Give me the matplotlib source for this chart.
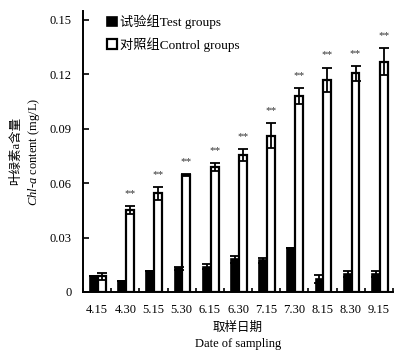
import matplotlib
matplotlib.use('Agg')
import matplotlib.pyplot as plt
import numpy as np

plt.rcParams['font.family'] = ['Liberation Serif', 'Noto Sans CJK SC']
plt.rcParams['mathtext.fontset'] = 'custom'
plt.rcParams['mathtext.rm'] = 'Liberation Serif'
plt.rcParams['mathtext.it'] = 'Liberation Serif:italic'

# data
dates = ['4.15', '4.30', '5.15', '5.30', '6.15', '6.30', '7.15', '7.30', '8.15', '8.30', '9.15']
test_mean = [0.0085, 0.006, 0.0115, 0.013, 0.014, 0.018, 0.0175, 0.024, 0.007, 0.010, 0.010]
test_err = [0.0, 0.0, 0.0, 0.001, 0.0012, 0.0018, 0.0013, 0.0, 0.0022, 0.0018, 0.0018]
ctrl_mean = [0.0085, 0.0452, 0.0544, 0.0645, 0.0691, 0.0756, 0.0862, 0.108, 0.117, 0.1206, 0.127]
ctrl_err = [0.0018, 0.0022, 0.0035, 0.0004, 0.0022, 0.0033, 0.0068, 0.0046, 0.0067, 0.0042, 0.0075]
signif = ['', '**', '**', '**', '**', '**', '**', '**', '**', '**', '**']

fig = plt.figure(figsize=(4, 3.5), dpi=100)
ax = fig.add_axes([0.2075, 0.166, 0.775, 0.803])

x = np.arange(len(dates))
w = 0.28
x_test = x - 0.11
x_ctrl = x + 0.17

ax.bar(x_test, test_mean, width=w, color='black', edgecolor='black', linewidth=1.2,
       label='试验组Test groups', zorder=2)
ax.bar(x_ctrl, ctrl_mean, width=w, color='white', edgecolor='black', linewidth=1.6,
       label='对照组Control groups', zorder=2)

ax.errorbar(x_test, test_mean, yerr=test_err, fmt='none', ecolor='black',
            elinewidth=1.3, capsize=3.5, capthick=1.3, zorder=3)
ax.errorbar(x_ctrl, ctrl_mean, yerr=ctrl_err, fmt='none', ecolor='black',
            elinewidth=1.3, capsize=3.5, capthick=1.3, zorder=3)

for xi, m, e, s in zip(x_ctrl, ctrl_mean, ctrl_err, signif):
    if s:
        ax.annotate(s, (xi, m + e), xytext=(0, 9), textcoords='offset points',
                    ha='center', va='center', fontsize=8, color='#333333')

ax.set_xlim(-0.5, len(dates) - 0.5)
ax.set_ylim(0, 0.155)
ax.set_yticks([0, 0.03, 0.06, 0.09, 0.12, 0.15])
ax.set_yticklabels(['0', '0.03', '0.06', '0.09', '0.12', '0.15'])
ax.set_xticks(x)
ax.set_xticklabels(dates)
ax.set_xticks(np.arange(len(dates) + 1) - 0.5, minor=True)
ax.tick_params(axis='x', which='major', length=0, pad=9, labelsize=9)
ax.tick_params(axis='x', which='minor', direction='in', length=3, width=1.2)
ax.tick_params(axis='y', direction='in', length=4, width=1.2, pad=8, labelsize=9)

for side in ['top', 'right']:
    ax.spines[side].set_visible(False)
for side in ['bottom', 'left']:
    ax.spines[side].set_linewidth(1.4)

ax.set_ylabel('叶绿素a含量\n' + r'$\mathit{Chl}$-$\mathit{a}$ content (mg/L)',
              fontsize=9, linespacing=1.3, labelpad=6)
ax.set_xlabel('取样日期\nDate of sampling', fontsize=9, linespacing=1.4, labelpad=4)

ax.legend(loc='upper left', bbox_to_anchor=(0.04, 1.03), frameon=False, fontsize=9.5,
          handlelength=0.7, handleheight=0.7, handletextpad=0.3, labelspacing=0.6)

fig.savefig('out.png', dpi=100)
